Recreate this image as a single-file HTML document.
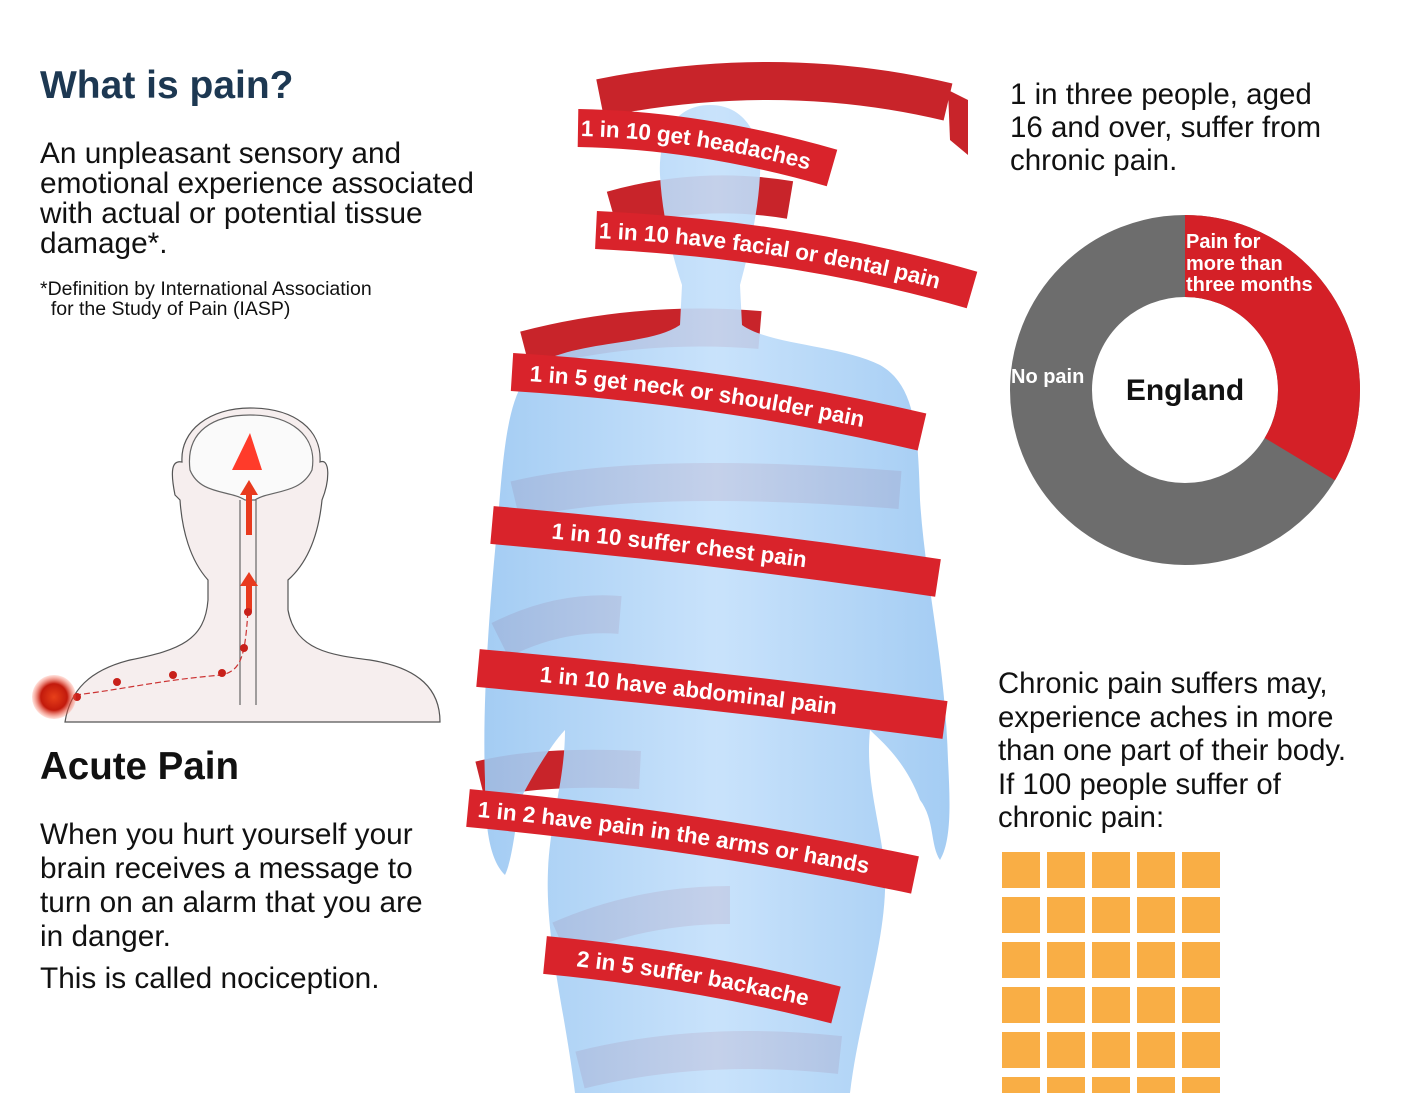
<!DOCTYPE html>
<html><head><meta charset="utf-8"><style>
html,body{margin:0;padding:0;background:#fff;}
body{width:1414px;height:1093px;position:relative;overflow:hidden;font-family:"Liberation Sans",Arial,sans-serif;color:#111;}
.t{position:absolute;white-space:nowrap;}
</style></head><body>
<svg width="1414" height="1093" style="position:absolute;left:0;top:0">
<defs>
<linearGradient id="bg" x1="0" x2="1" y1="0" y2="0">
<stop offset="0" stop-color="#9cc8f2"/><stop offset="0.5" stop-color="#c4e0fb"/><stop offset="1" stop-color="#9cc8f2"/>
</linearGradient>
<radialGradient id="dot"><stop offset="0" stop-color="#e8401a"/><stop offset="0.6" stop-color="#c21a0c"/><stop offset="1" stop-color="#ff6a50" stop-opacity="0.2"/></radialGradient>
</defs>

<path d="M65 722 C70 690 90 670 130 660 C180 650 205 640 208 600 L208 580 C190 560 182 530 180 500 L175 495 C170 470 172 460 182 462 C180 430 210 408 250 408 C295 408 322 430 320 462 C330 458 330 480 322 500 C318 540 305 565 288 580 L288 610 C295 650 330 655 370 660 C420 668 440 690 440 722 Z" fill="#f6eeee" stroke="#555" stroke-width="1.2"/>
<path d="M190 470 C185 430 215 415 250 415 C290 415 318 435 312 470 C300 495 270 490 255 500 L245 500 C230 490 200 495 190 470 Z" fill="#fafafa" stroke="#666" stroke-width="1.2"/>
<path d="M240 500 L240 705 M256 500 L256 705" stroke="#666" stroke-width="1.2" fill="none"/>
<path d="M250 433 L262 470 L232 470 Z" fill="#ff3b2a"/>
<rect x="246" y="490" width="6" height="45" fill="#e83a1e"/><path d="M240 495 L249 480 L258 495 Z" fill="#e83a1e"/>
<rect x="246" y="582" width="6" height="30" fill="#e83a1e"/><path d="M240 586 L249 572 L258 586 Z" fill="#e83a1e"/>
<path d="M75 695 C120 690 160 680 222 675 C240 670 245 660 248 610" stroke="#c33" stroke-width="1.2" stroke-dasharray="6 3" fill="none"/>
<g fill="#c8201a"><circle cx="248" cy="612" r="4"/><circle cx="244" cy="648" r="4"/><circle cx="222" cy="673" r="4"/><circle cx="173" cy="675" r="4"/><circle cx="117" cy="682" r="4"/><circle cx="77" cy="697" r="4"/></g>
<circle cx="54" cy="697" r="22" fill="url(#dot)"/>

<g fill="none" stroke="#c8242a" stroke-width="38">
<path d="M600 98 Q780 62 948 102"/>
<path d="M612 210 Q700 185 790 200"/>
<path d="M525 350 Q640 320 760 330"/>
<path d="M515 500 Q640 470 900 490"/>
<path d="M500 640 Q560 610 620 615"/>
<path d="M480 780 Q540 765 640 770"/>
<path d="M560 940 Q640 905 730 905"/>
<path d="M580 1070 Q700 1040 840 1055"/>
</g>
<path d="M948 90 L968 100 L968 155 L950 140 Z" fill="#c8242a"/>

<path d="M710 105 C745 105 762 135 760 175 C758 215 748 255 740 285 L742 325 C770 345 840 345 880 365 C915 385 918 430 920 500 C925 580 945 660 948 760 C950 800 952 840 940 860 C930 845 935 820 920 800 C905 760 880 740 870 730 C865 780 880 820 885 870 C888 940 860 1010 850 1093 L575 1093 C565 1010 545 940 548 870 C550 820 565 780 565 730 C555 740 535 770 520 800 C515 830 512 860 505 875 C490 860 485 830 485 780 C482 700 490 600 498 520 C505 430 510 380 545 360 C590 340 650 345 680 325 L682 285 C672 255 662 215 660 175 C658 135 675 105 710 105 Z" fill="url(#bg)" opacity="0.92"/>

<g fill="none" stroke="#d9232b" stroke-width="38">
<path id="b1" d="M578 128 Q700 130 832 168"/>
<path id="b2" d="M596 230 Q800 240 972 290"/>
<path id="b3" d="M512 372 Q720 385 922 432"/>
<path id="b4" d="M492 525 Q720 545 938 578"/>
<path id="b5" d="M478 668 Q720 690 945 720"/>
<path id="b6" d="M468 808 Q700 830 915 875"/>
<path id="b7" d="M545 955 Q700 970 836 1005"/>
</g>
<g font-family="Liberation Sans, Arial, sans-serif" font-weight="bold" font-size="22.5" fill="#fff" dominant-baseline="central">
<text><textPath href="#b1" startOffset="3">1 in 10 get headaches</textPath></text>
<text><textPath href="#b2" startOffset="3">1 in 10 have facial or dental pain</textPath></text>
<text><textPath href="#b3" startOffset="18">1 in 5 get neck or shoulder pain</textPath></text>
<text><textPath href="#b4" startOffset="60">1 in 10 suffer chest pain</textPath></text>
<text><textPath href="#b5" startOffset="62">1 in 10 have abdominal pain</textPath></text>
<text><textPath href="#b6" startOffset="10">1 in 2 have pain in the arms or hands</textPath></text>
<text><textPath href="#b7" startOffset="32">2 in 5 suffer backache</textPath></text>
</g>

<circle cx="1185" cy="390" r="134" fill="none" stroke="#6d6d6d" stroke-width="82"/>
<circle cx="1185" cy="390" r="134" fill="none" stroke="#d42027" stroke-width="82" stroke-dasharray="283 600" transform="rotate(-90 1185 390)"/>
<text x="1185" y="400" text-anchor="middle" font-size="30" font-weight="bold" fill="#111">England</text>
<g font-size="20" font-weight="bold" fill="#fff">
<text x="1186" y="248">Pain for</text><text x="1186" y="270">more than</text><text x="1186" y="291">three months</text>
<text x="1011" y="383">No pain</text>
</g>

<g fill="#f9ae45">
<rect x="1002" y="852" width="38" height="36"/><rect x="1047" y="852" width="38" height="36"/><rect x="1092" y="852" width="38" height="36"/><rect x="1137" y="852" width="38" height="36"/><rect x="1182" y="852" width="38" height="36"/>
<rect x="1002" y="897" width="38" height="36"/><rect x="1047" y="897" width="38" height="36"/><rect x="1092" y="897" width="38" height="36"/><rect x="1137" y="897" width="38" height="36"/><rect x="1182" y="897" width="38" height="36"/>
<rect x="1002" y="942" width="38" height="36"/><rect x="1047" y="942" width="38" height="36"/><rect x="1092" y="942" width="38" height="36"/><rect x="1137" y="942" width="38" height="36"/><rect x="1182" y="942" width="38" height="36"/>
<rect x="1002" y="987" width="38" height="36"/><rect x="1047" y="987" width="38" height="36"/><rect x="1092" y="987" width="38" height="36"/><rect x="1137" y="987" width="38" height="36"/><rect x="1182" y="987" width="38" height="36"/>
<rect x="1002" y="1032" width="38" height="36"/><rect x="1047" y="1032" width="38" height="36"/><rect x="1092" y="1032" width="38" height="36"/><rect x="1137" y="1032" width="38" height="36"/><rect x="1182" y="1032" width="38" height="36"/>
<rect x="1002" y="1077" width="38" height="36"/><rect x="1047" y="1077" width="38" height="36"/><rect x="1092" y="1077" width="38" height="36"/><rect x="1137" y="1077" width="38" height="36"/><rect x="1182" y="1077" width="38" height="36"/>
</g>
</svg>

<div class="t" style="left:40px;top:64px;font-size:39px;font-weight:bold;color:#1d3852">What is pain?</div>
<div class="t" style="left:40px;top:139px;font-size:29.8px;line-height:30px">An unpleasant sensory and<br>emotional experience associated<br>with actual or potential tissue<br>damage*.</div>
<div class="t" style="left:40px;top:279px;font-size:19.5px;line-height:20px">*Definition by International Association<br>&nbsp;&nbsp;for the Study of Pain (IASP)</div>
<div class="t" style="left:40px;top:745px;font-size:38.5px;font-weight:bold">Acute Pain</div>
<div class="t" style="left:40px;top:818px;font-size:29.8px;line-height:34px">When you hurt yourself your<br>brain receives a message to<br>turn on an alarm that you are<br>in danger.</div>
<div class="t" style="left:40px;top:962px;font-size:29.8px">This is called nociception.</div>
<div class="t" style="left:1010px;top:78px;font-size:29.5px;line-height:33px">1 in three people, aged<br>16 and over, suffer from<br>chronic pain.</div>
<div class="t" style="left:998px;top:667px;font-size:29.3px;line-height:33.5px">Chronic pain suffers may,<br>experience aches in more<br>than one part of their body.<br>If 100 people suffer of<br>chronic pain:</div>
</body></html>
